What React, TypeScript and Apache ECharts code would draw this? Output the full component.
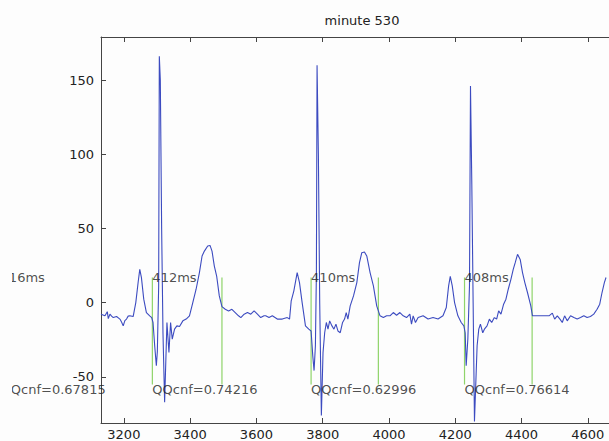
import React, { useEffect, useRef } from "react";
import * as echarts from "echarts";

const titleText = "minute 530";
const xTicks = [3200, 3400, 3600, 3800, 4000, 4200, 4400, 4600];
const yTicks = [-50, 0, 50, 100, 150];

// ECG trace [sample, amplitude]
const ecg: [number, number][] = [
  [3131, -7.7], [3143, -8.8], [3150, -6], [3153, -10.7], [3158, -7.7], [3163, -9], [3168, -10], [3178, -9.3],
  [3188, -11], [3193, -13], [3198, -15.6], [3203, -12], [3208, -11], [3213, -9], [3218, -8.8], [3228, -9.3],
  [3236, 0.1], [3243, 13.6], [3248, 22.5], [3253, 16.9], [3260, 2.4], [3268, -6.6], [3278, -8.8], [3284, -10],
  [3288, -13.3], [3293, -29], [3298, -42.4], [3301, -33], [3305, 11], [3307, 166], [3310, 150], [3314, 50],
  [3318, -20], [3323, -67], [3330, -13.3], [3336, -33.5], [3341, -13.3], [3346, -24.5], [3353, -17.8], [3360, -15.6],
  [3368, -16], [3378, -12.2], [3388, -11], [3398, -8.8], [3408, 0.1], [3418, 9.1], [3428, 20.3], [3436, 31.5],
  [3443, 34.8], [3453, 38.2], [3460, 38.6], [3466, 34.8], [3473, 24.7], [3480, 18], [3488, 4.6], [3496, -2.6],
  [3506, -4.4], [3516, -5.5], [3526, -4.4], [3536, -6.6], [3546, -8.8], [3553, -10], [3563, -7.7], [3573, -6.6],
  [3583, -7.7], [3593, -5.5], [3603, -7.7], [3613, -10], [3623, -8.8],
  [3628, -8.8], [3638, -10], [3648, -8.8], [3663, -11], [3678, -11], [3693, -10], [3700, -11], [3705, 1.3],
  [3713, 8], [3723, 20.3], [3730, 13.6], [3738, 0.1], [3748, -15.6], [3758, -17.8], [3765, -19], [3770, -35.6],
  [3774, -45.7], [3778, -29], [3781, 20], [3783, 160], [3787, 100], [3791, 0], [3796, -76], [3801, -33.6],
  [3806, -20.2], [3811, -13.3], [3816, -17.8], [3821, -12.2], [3828, -15.6], [3834, -17.8], [3840, -14.4], [3846, -19],
  [3853, -20.2], [3860, -13.3], [3866, -11], [3871, -6.6], [3876, -11], [3883, -2.1], [3893, 4.6], [3903, 13.6],
  [3911, 27], [3918, 33.7], [3926, 34.2], [3933, 31.5], [3943, 20.3], [3953, 11.4], [3963, -2.1], [3973, -8.8],
  [3983, -10], [3993, -8.8], [4003, -8.8], [4013, -6.6], [4023, -8.4], [4033, -6.6], [4043, -8.8], [4053, -10],
  [4063, -7.7], [4068, -14.4], [4073, -8.8], [4080, -13.3], [4088, -10],
  [4103, -8.8], [4118, -11], [4133, -10], [4148, -11], [4163, -8.8], [4173, -3.2], [4180, 11.4], [4185, 17.7],
  [4191, 11.4], [4198, 0.1], [4208, -8.8], [4218, -13.3], [4226, -15.6], [4230, -20.2], [4233, -42.4], [4238, -24.5],
  [4243, 11.4], [4246, 146], [4250, 80], [4254, 0], [4258, -80], [4266, -29], [4271, -17.8], [4276, -14.4],
  [4283, -20.2], [4288, -17.8], [4296, -15.6], [4303, -11], [4310, -13.3], [4318, -10], [4325, -11], [4331, -5.5],
  [4338, -7.7], [4346, -1], [4353, 2.4], [4360, 9.1], [4368, 15.8], [4375, 22.5], [4381, 27], [4388, 32.6],
  [4396, 29.2], [4403, 20.3], [4410, 13.6], [4418, 6.9], [4428, -2.1], [4433, -8.8], [4483, -8.8], [4493, -7],
  [4500, -11], [4508, -8.8], [4516, -11], [4523, -13.3], [4530, -8.8], [4538, -12.2], [4548, -8.8], [4558, -10],
  [4568, -11], [4578, -10], [4588, -8.8], [4598, -10], [4608, -9.3], [4618, -7.7], [4628, -4.4], [4636, -1],
  [4643, 6.9], [4650, 13.6], [4655, 17],
];

// QT markers (green lines): start / end sample of each beat
const qtStart = [2828, 3286, 3765, 4228];
const qtEnd = [3038, 3496, 3968, 4432];
const markerTop = 17;
const markerBottom = -55;
const qtLabels = ["416ms", "412ms", "410ms", "408ms"];
const qqLabels = ["QQcnf=0.67815", "QQcnf=0.74216", "QQcnf=0.62996", "QQcnf=0.76614"];
const qtLabelY = 17;
const qqLabelY = -58.5;

const FONT = "DejaVu Sans";
const BG = "#fdfdfd";

export default function App() {
  const ref = useRef<HTMLDivElement>(null);
  useEffect(() => {
    if (!ref.current) return;
    const chart = echarts.init(ref.current, undefined, { renderer: "svg" });
    const greenSeries: any[] = [];
    qtStart.forEach((s, i) => {
      [s, qtEnd[i]].forEach((x) => {
        greenSeries.push({
          type: "line",
          data: [[x, markerTop], [x, markerBottom]],
          symbol: "none",
          lineStyle: { color: "#8fd46a", width: 1.2 },
          z: 1,
        });
      });
    });
    const labelData: any[] = [];
    qtStart.forEach((s, i) => {
      labelData.push([s, qtLabelY, qtLabels[i]]);
      labelData.push([s, qqLabelY, qqLabels[i]]);
    });
    const axisLineStyle = { color: "#444", width: 1 };
    chart.setOption({
      animation: false,
      backgroundColor: BG,
      title: {
        text: titleText,
        left: 357,
        top: 9,
        textAlign: "center",
        textStyle: { fontSize: 13, fontWeight: "normal", fontFamily: FONT, color: "#222" },
      },
      grid: { left: 101, top: 37, right: -3, bottom: 17 },
      xAxis: [
        {
          type: "value",
          min: 3131,
          max: 4664,
          position: "bottom",
          axisLine: { show: true, onZero: false, lineStyle: axisLineStyle },
          axisTick: { show: true, inside: true, length: 5, customValues: xTicks, lineStyle: axisLineStyle },
          axisLabel: {
            customValues: xTicks,
            formatter: (v: number) => String(v),
            fontSize: 13,
            fontFamily: FONT,
            color: "#222",
            margin: 5,
          },
          splitLine: { show: false },
        },
        {
          type: "value",
          min: 3131,
          max: 4664,
          position: "top",
          axisLine: { show: true, onZero: false, lineStyle: axisLineStyle },
          axisTick: { show: true, inside: true, length: 5, customValues: xTicks, lineStyle: axisLineStyle },
          axisLabel: { show: false },
          splitLine: { show: false },
        },
      ],
      yAxis: [
        {
          type: "value",
          min: -81,
          max: 179,
          position: "left",
          axisLine: { show: true, onZero: false, lineStyle: axisLineStyle },
          axisTick: { show: true, inside: true, length: 5, customValues: yTicks, lineStyle: axisLineStyle },
          axisLabel: { customValues: yTicks, fontSize: 13, fontFamily: FONT, color: "#222", margin: 7 },
          splitLine: { show: false },
        },
      ],
      graphic: [
        {
          type: "rect",
          left: 0,
          top: 0,
          shape: { width: 12, height: 441 },
          style: { fill: BG },
          z: 100,
        },
      ],
      series: [
        {
          type: "line",
          data: ecg,
          symbol: "none",
          lineStyle: { color: "#3c4bc0", width: 1.1 },
          z: 2,
        },
        ...greenSeries,
        {
          type: "scatter",
          data: labelData,
          symbolSize: 0,
          clip: false,
          z: 5,
          label: {
            show: true,
            position: "right",
            distance: 0,
            formatter: (p: any) => p.value[2],
            fontSize: 13,
            fontFamily: FONT,
            color: "#222",
          },
        },
      ],
    });
    return () => chart.dispose();
  }, []);
  return (
    <div
      ref={ref}
      style={{ position: "absolute", left: 0, top: 0, width: 609, height: 441 }}
    />
  );
}
